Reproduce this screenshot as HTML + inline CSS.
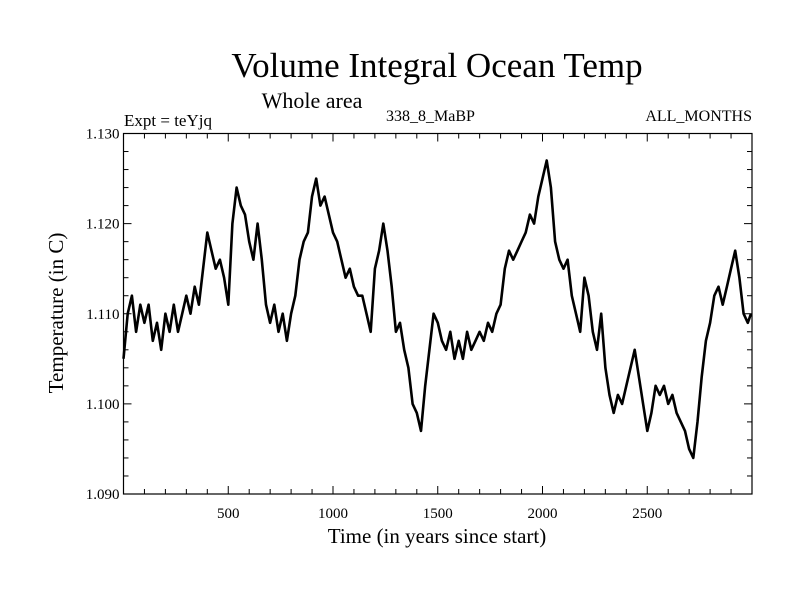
<!DOCTYPE html>
<html><head><meta charset="utf-8"><style>
body{margin:0;background:#fff;}
svg text{font-family:"Liberation Serif",serif;fill:#000;}
</style></head><body>
<svg id="chart" width="800" height="600" viewBox="0 0 800 600">
<rect width="800" height="600" fill="#fff"/>
<text x="437" y="77" font-size="35" text-anchor="middle">Volume Integral Ocean Temp</text>
<text x="312" y="108" font-size="22" text-anchor="middle">Whole area</text>
<text x="124" y="126" font-size="17">Expt = teYjq</text>
<text x="386" y="121" font-size="16">338_8_MaBP</text>
<text x="752" y="121" font-size="16" text-anchor="end">ALL_MONTHS</text>
<text x="437" y="543" font-size="21" text-anchor="middle">Time (in years since start)</text>
<text transform="translate(63,313) rotate(-90)" font-size="21" text-anchor="middle">Temperature (in C)</text>
<g id="axes"></g>
<g id="series"></g>
<rect x="123.5" y="133.5" width="628.5" height="360.5" fill="none" stroke="#000" stroke-width="1.2"/>
</svg>
<script>
const years=[
0,20,40,60,80, 100,120,140,160,180, 200,220,240,260,280, 300,320,340,360,380,
400,420,440,460,480, 500,520,540,560,580, 600,620,640,660,680, 700,720,740,760,780,
800,820,840,860,880, 900,920,940,960,980, 1000,1020,1040,1060,1080, 1100,1120,1140,1160,1180,
1200,1220,1240,1260,1280, 1300,1320,1340,1360,1380, 1400,1420,1440,1460,1480, 1500,1520,1540,1560,1580,
1600,1620,1640,1660,1680, 1700,1720,1740,1760,1780, 1800,1820,1840,1860,1880, 1900,1920,1940,1960,1980,
2000,2020,2040,2060,2080, 2100,2120,2140,2160,2180, 2200,2220,2240,2260,2280, 2300,2320,2340,2360,2380,
2400,2420,2440,2460,2480, 2500,2520,2540,2560,2580, 2600,2620,2640,2660,2680, 2700,2720,2740,2760,2780,
2800,2820,2840,2860,2880, 2900,2920,2940,2960,2980, 2995];
const temps=[
1.105,1.110,1.112,1.108,1.111, 1.109,1.111,1.107,1.109,1.106, 1.110,1.108,1.111,1.108,1.110, 1.112,1.110,1.113,1.111,1.115,
1.119,1.117,1.115,1.116,1.114, 1.111,1.120,1.124,1.122,1.121, 1.118,1.116,1.120,1.116,1.111, 1.109,1.111,1.108,1.110,1.107,
1.110,1.112,1.116,1.118,1.119, 1.123,1.125,1.122,1.123,1.121, 1.119,1.118,1.116,1.114,1.115, 1.113,1.112,1.112,1.110,1.108,
1.115,1.117,1.120,1.117,1.113, 1.108,1.109,1.106,1.104,1.100, 1.099,1.097,1.102,1.106,1.110, 1.109,1.107,1.106,1.108,1.105,
1.107,1.105,1.108,1.106,1.107, 1.108,1.107,1.109,1.108,1.110, 1.111,1.115,1.117,1.116,1.117, 1.118,1.119,1.121,1.120,1.123,
1.125,1.127,1.124,1.118,1.116, 1.115,1.116,1.112,1.110,1.108, 1.114,1.112,1.108,1.106,1.110, 1.104,1.101,1.099,1.101,1.100,
1.102,1.104,1.106,1.103,1.100, 1.097,1.099,1.102,1.101,1.102, 1.100,1.101,1.099,1.098,1.097, 1.095,1.094,1.098,1.103,1.107,
1.109,1.112,1.113,1.111,1.113, 1.115,1.117,1.114,1.110,1.109, 1.110];
const xTicks=[500,1000,1500,2000,2500];
const yTicks=[1.090,1.100,1.110,1.120,1.130];
const yTickLabels=["1.090","1.100","1.110","1.120","1.130"];
const X0=123.5,X1=752,Y0=494,Y1=133.5,XMIN=0,XMAX=3000,YMIN=1.09,YMAX=1.13;
function sx(v){return X0+(v-XMIN)/(XMAX-XMIN)*(X1-X0);}
function sy(v){return Y0-(v-YMIN)/(YMAX-YMIN)*(Y0-Y1);}
const NS='http://www.w3.org/2000/svg';
const axes=document.getElementById('axes');
function mk(tag,attrs,parent){const e=document.createElementNS(NS,tag);for(const k in attrs)e.setAttribute(k,attrs[k]);parent.appendChild(e);return e;}
for(let v=100;v<XMAX;v+=100){
  const major=v%500===0, len=major?8:5;
  let t=mk('line',{x1:sx(v),x2:sx(v),y1:Y0,y2:Y0-len,stroke:'#000','stroke-width':1},axes);
  
  
  t=mk('line',{x1:sx(v),x2:sx(v),y1:Y1,y2:Y1+len,stroke:'#000','stroke-width':1},axes);
  
  
}
for(let i=1;i<20;i++){
  const v=YMIN+i*0.002, major=i%5===0, len=major?8:5;
  let t=mk('line',{x1:X0,x2:X0+len,y1:sy(v),y2:sy(v),stroke:'#000','stroke-width':1},axes);
  
  
  t=mk('line',{x1:X1,x2:X1-len,y1:sy(v),y2:sy(v),stroke:'#000','stroke-width':1},axes);
  
  
}
xTicks.forEach(v=>{
  const t=mk('text',{x:sx(v),y:Y0+24,'font-size':15,'text-anchor':'middle'},axes);
  t.textContent=String(v);
  
  
});
yTicks.forEach((v,i)=>{
  const t=mk('text',{x:X0-4,y:sy(v)+5,'font-size':15,'text-anchor':'end'},axes);
  t.textContent=yTickLabels[i];
  
  
});
const n=Math.min(years.length,temps.length);
let d='';
for(let i=0;i<n;i++){d+=(i?'L':'M')+sx(years[i]).toFixed(1)+','+sy(temps[i]).toFixed(1);}
const line=mk('path',{d:d,fill:'none',stroke:'#000','stroke-width':2.6,'stroke-linejoin':'round'},document.getElementById('series'));


</script>
</body></html>
